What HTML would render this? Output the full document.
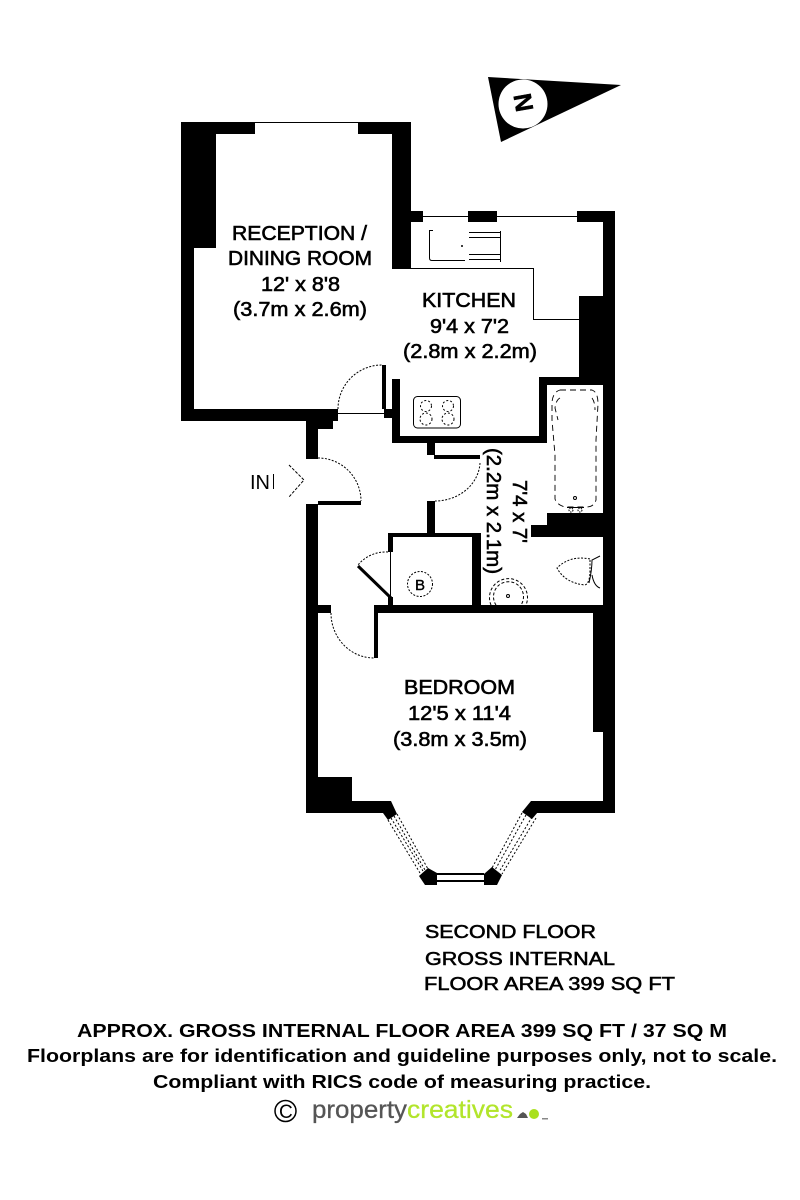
<!DOCTYPE html>
<html><head><meta charset="utf-8"><style>
html,body{margin:0;padding:0;background:#fff;width:800px;height:1200px;overflow:hidden}
svg{display:block}
text{font-family:"Liberation Sans",Arial,sans-serif;fill:#000}
.t{font-size:20px;stroke:#000;stroke-width:.6}
</style></head><body>
<svg width="800" height="1200" viewBox="0 0 800 1200" xmlns="http://www.w3.org/2000/svg">
<rect width="800" height="1200" fill="#fff"/>
<g fill="#000" shape-rendering="crispEdges">
<!-- reception -->
<rect x="181" y="122" width="74" height="12"/>
<rect x="358" y="122" width="53" height="12"/>
<rect x="181" y="122" width="35" height="126"/>
<rect x="181" y="122" width="13" height="299"/>
<rect x="392" y="122" width="19" height="146"/>
<rect x="181" y="409" width="157" height="12"/>
<rect x="306" y="409" width="27" height="20"/>
<!-- kitchen window & walls -->
<rect x="411" y="211" width="12" height="11"/>
<rect x="468" y="211" width="29" height="11"/>
<rect x="577" y="211" width="38" height="11"/>
<rect x="603" y="211" width="12" height="602"/>
<rect x="579" y="296" width="36" height="89"/>
<rect x="539" y="377" width="76" height="8"/>
<rect x="539" y="377" width="8" height="66"/>
<rect x="392" y="379" width="8" height="64"/>
<rect x="384" y="409" width="8" height="9"/>
<rect x="392" y="436" width="155" height="7"/>
<rect x="382" y="365" width="4" height="44"/>
<!-- hall -->
<rect x="306" y="409" width="12" height="50"/>
<rect x="306" y="504" width="12" height="309"/>
<rect x="318" y="501" width="43" height="4"/>
<rect x="427" y="443" width="8" height="12"/>
<rect x="434" y="455" width="46" height="4"/>
<rect x="427" y="501" width="8" height="32"/>
<rect x="388" y="533" width="93" height="4"/>
<rect x="472" y="533" width="9" height="72"/>
<rect x="388" y="533" width="5" height="19"/>
<rect x="388" y="597" width="5" height="8"/>
<!-- bath/wc wall -->
<rect x="547" y="513" width="58" height="24"/>
<rect x="531" y="525" width="20" height="12"/>
<!-- bedroom -->
<rect x="377" y="605" width="238" height="8"/>
<rect x="593" y="605" width="22" height="127"/>
<rect x="318" y="605" width="13" height="8"/>
<rect x="374" y="605" width="4" height="53"/>
<rect x="306" y="777" width="46" height="36"/>
<rect x="306" y="801" width="85" height="12"/>
<rect x="531" y="801" width="84" height="12"/>
<!-- bay centre window -->
<rect x="437" y="873" width="47" height="2"/>
<rect x="437" y="880" width="47" height="2"/>
</g>
<!-- bay piers -->
<polygon points="383,813 391,801 397,814 388,820" fill="#000"/>
<polygon points="531,801 538,812 532,819 522,812" fill="#000"/>
<polygon points="419,876 428,868 437,873 437,885 425,885" fill="#000"/>
<polygon points="484,874 492,867 502,875 497,885 484,885" fill="#000"/>
<!-- bay dashed glazing -->
<g fill="none" stroke="#000" stroke-width="1" stroke-dasharray="2 2">
<path d="M388 820L420 873M391 818L423 871M394 816L425 870M397 814L428 869"/>
<path d="M522 813L492 868M526 815L495 870M532 817L499 872M536 818L502 874"/>
</g>
<!-- thin lines -->
<g fill="none" stroke="#000" stroke-width="1">
<path d="M255 122.500H358M423 216.500H468M497 216.500H577M392 268.500H533.500V319.500H579M338 413.500H384M390.500 552V600"/>
<path d="M338 409A44 44 0 0 1 382 365" stroke-dasharray="2 1.500"/>
<path d="M318 458A43 43 0 0 1 361 501" stroke-dasharray="2 1.500"/>
<path d="M480 463A45 40 0 0 1 435 501" stroke-dasharray="2 1.500"/>
<path d="M388 552A36 36 0 0 0 358 565" stroke-dasharray="2 1.500"/>
<path d="M331 613A43 45 0 0 0 374 658" stroke-dasharray="2 1.500"/>
<path d="M289 465L304 480L289 497" stroke-dasharray="3 1.500"/>
<!-- sink -->
<path d="M433 230.500H429.500V258Q429.500 260.500 432 260.500H465"/>
<path d="M469 232.500H500M469 237.500H500M469 254.500H500M469 259.500H500M500.500 231V262"/>
<!-- hob -->
<rect x="413.500" y="396.500" width="47" height="31.500" rx="4"/>
<g stroke-dasharray="2 2"><circle cx="426" cy="406" r="5.500"/><circle cx="448" cy="406" r="5.500"/><circle cx="426" cy="419" r="6"/><circle cx="448" cy="419" r="6"/></g>
<!-- bath -->
<g stroke-dasharray="6 4" stroke-width=".9">
<path d="M560 390H592Q598 392 598 404L596 440V500Q594 507 586 507H565Q557 505 555 499V455L552 420V402Q553 392 560 390Z"/>
<path d="M560 398Q556 400 555 408L558 420M592 398Q595 402 595 410"/>
</g>
<path d="M567 507.500H584"/>
<circle cx="575" cy="498" r="1.500"/>
<circle cx="571" cy="510" r="2" stroke-dasharray="1.500 1"/><circle cx="580" cy="510" r="2" stroke-dasharray="1.500 1"/>
<!-- toilet -->
<path d="M590 559Q570 555 557 568Q565 583 585 585Q590 583 590 570Z" stroke-dasharray="2 1.500"/>
<path d="M589 583Q592 570 592 560L600 556M592 575Q594 586 600 588"/>
<!-- basin -->
<g stroke-dasharray="3 2"><path d="M491 605A19 19 0 1 1 526 605"/><path d="M496 605A15 15 0 1 1 521 605"/></g>
<circle cx="508" cy="596" r="1.500"/>
<!-- boiler -->
<circle cx="420" cy="584" r="12.500" stroke-dasharray="2 1.500"/>
<!-- IN bar -->
<path d="M273.500 474V489"/>
</g>
<line x1="358" y1="566" x2="391" y2="598" stroke="#000" stroke-width="3"/>
<text x="415" y="590" font-size="15" stroke="#000" stroke-width=".4">B</text>
<circle cx="462" cy="246" r="1" fill="#000"/>
<!-- north -->
<polygon points="488,77 621,85 501,142" fill="#000"/>
<circle cx="523" cy="104" r="24.500" fill="#fff"/>
<text x="0" y="0" font-size="25" font-weight="bold" stroke="#000" stroke-width=".5" text-anchor="middle" transform="translate(515,104) rotate(80)">N</text>
<!-- room labels -->
<text class="t" x="232" y="240" textLength="135" lengthAdjust="spacingAndGlyphs">RECEPTION /</text>
<text class="t" x="228" y="265" textLength="144" lengthAdjust="spacingAndGlyphs">DINING ROOM</text>
<text class="t" x="261" y="291" textLength="79" lengthAdjust="spacingAndGlyphs">12' x 8'8</text>
<text class="t" x="233" y="316" textLength="134" lengthAdjust="spacingAndGlyphs">(3.7m x 2.6m)</text>
<text class="t" x="422" y="307" textLength="94" lengthAdjust="spacingAndGlyphs">KITCHEN</text>
<text class="t" x="430" y="333" textLength="79" lengthAdjust="spacingAndGlyphs">9'4 x 7'2</text>
<text class="t" x="403" y="358" textLength="134" lengthAdjust="spacingAndGlyphs">(2.8m x 2.2m)</text>
<text class="t" x="404" y="694" textLength="111" lengthAdjust="spacingAndGlyphs">BEDROOM</text>
<text class="t" x="408" y="720" textLength="103" lengthAdjust="spacingAndGlyphs">12'5 x 11'4</text>
<text class="t" x="393" y="746" textLength="134" lengthAdjust="spacingAndGlyphs">(3.8m x 3.5m)</text>
<text class="t" x="0" y="0" textLength="126" lengthAdjust="spacingAndGlyphs" transform="translate(487,448) rotate(90)">(2.2m x 2.1m)</text>
<text class="t" x="0" y="0" textLength="63" lengthAdjust="spacingAndGlyphs" transform="translate(513,480) rotate(90)">7'4 x 7'</text>
<text x="250" y="489" font-size="20">IN</text>
<!-- summary -->
<g font-size="18" stroke="#000" stroke-width=".55">
<text x="425" y="938" textLength="171" lengthAdjust="spacingAndGlyphs">SECOND FLOOR</text>
<text x="425" y="965" textLength="190" lengthAdjust="spacingAndGlyphs">GROSS INTERNAL</text>
<text x="424" y="990" textLength="251" lengthAdjust="spacingAndGlyphs">FLOOR AREA 399 SQ FT</text>
</g>
<g font-size="18" font-weight="bold">
<text x="77" y="1037" textLength="650" lengthAdjust="spacingAndGlyphs">APPROX. GROSS INTERNAL FLOOR AREA 399 SQ FT / 37 SQ M</text>
<text x="27" y="1062" textLength="750" lengthAdjust="spacingAndGlyphs">Floorplans are for identification and guideline purposes only, not to scale.</text>
<text x="153" y="1088" textLength="498" lengthAdjust="spacingAndGlyphs">Compliant with RICS code of measuring practice.</text>
</g>
<!-- logo -->
<circle cx="285.500" cy="1111" r="10.500" fill="none" stroke="#000" stroke-width="1.500"/>
<text x="279" y="1118" font-size="19">C</text>
<text x="312" y="1118" font-size="25" stroke="#555" stroke-width=".3" style="fill:#555" textLength="95" lengthAdjust="spacingAndGlyphs">property</text>
<text x="407" y="1118" font-size="25" stroke="#b2e52b" stroke-width=".3" style="fill:#b2e52b" textLength="106" lengthAdjust="spacingAndGlyphs">creatives</text>
<polygon points="517,1118 520,1114 523,1112 526,1114 528,1118" fill="#555"/>
<circle cx="534" cy="1114" r="5" fill="#a9e01e"/>
<rect x="542" y="1118" width="6" height="1.500" fill="#888"/>
</svg>
</body></html>
